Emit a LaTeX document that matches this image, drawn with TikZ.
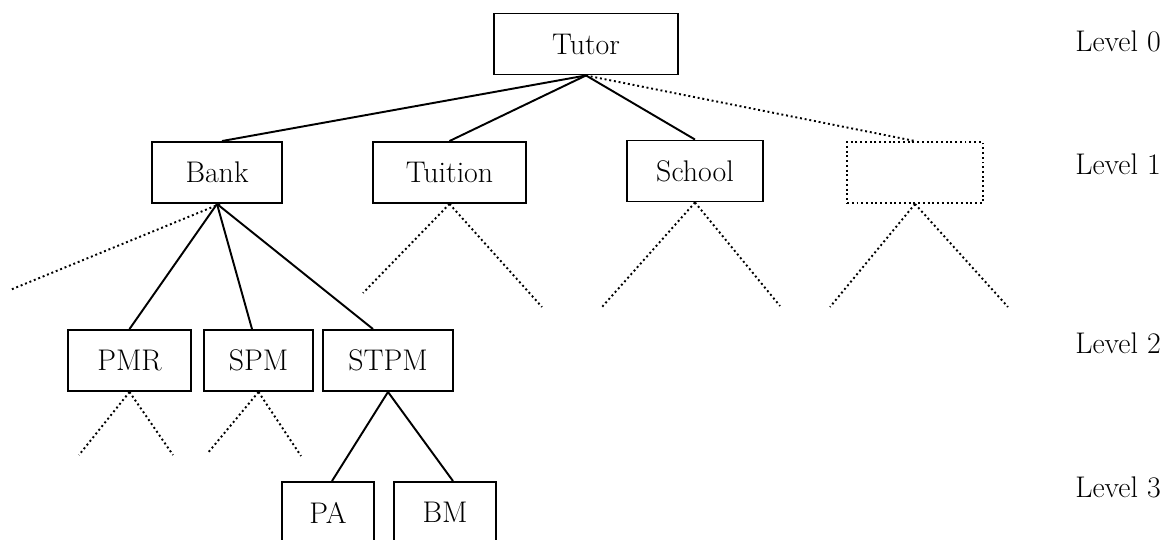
\documentclass[tikz,border=0pt]{standalone}
\tikzset{
  box/.style={draw, line width=1.1pt, minimum height=1.22cm, inner sep=0pt,
    font=\fontsize{17}{20}\selectfont},
  ghostbox/.style={box, dash pattern=on 1.1pt off 1.6pt},
  link/.style={line width=1.1pt},
  stub/.style={line width=1.1pt, dash pattern=on 1.1pt off 1.6pt},
  levellabel/.style={anchor=west, inner sep=0pt, font=\fontsize{17}{20}\selectfont}
}
\begin{document}
\begin{tikzpicture}[x=0.02cm, y=-0.02cm]
    \useasboundingbox (0,0) rectangle (1163,540);

    % Level 0
    \node[box, minimum width=3.68cm] (tutor) at (586,44) {Tutor};

    % Level 1
    \node[box, minimum width=2.60cm] (bank) at (217,172.5) {Bank};
    \node[box, minimum width=3.06cm] (tuition) at (449.5,172.5) {Tuition};
    \node[box, minimum width=2.72cm] (school) at (695,171) {School};
    \node[ghostbox, minimum width=2.72cm] (blank) at (915,172.5) {};

    % Level 2
    \node[box, minimum width=2.46cm] (pmr) at (129.5,360.5) {PMR};
    \node[box, minimum width=2.18cm] (spm) at (258.5,360.5) {SPM};
    \node[box, minimum width=2.60cm] (stpm) at (388,360.5) {STPM};

    % Level 3
    \node[box, minimum width=1.84cm] (pa) at (328,512.5) {PA};
    \node[box, minimum width=2.04cm] (bm) at (445,512.5) {BM};

    % Level labels
    \foreach \y/\n in {41/0, 164/1, 343/2, 487/3}{
        \node[levellabel] (level\n) at (1075,\y) {Level \n};
    }

    % Solid links
    \draw[link] (tutor.south) -- ([xshift=0.1cm]bank.north);
    \draw[link] (tutor.south) -- (tuition.north);
    \draw[link] (tutor.south) -- (school.north);
    \draw[link] (bank.south) -- (pmr.north);
    \draw[link] (bank.south) -- ([xshift=-0.13cm]spm.north);
    \draw[link] (bank.south) -- ([xshift=-0.3cm]stpm.north);
    \draw[link] (stpm.south) -- ([xshift=0.08cm]pa.north);
    \draw[link] (stpm.south) -- ([xshift=0.16cm]bm.north);

    % Dotted links
    \draw[stub] (tutor.south) -- (blank.north);

    % Free ends of the dotted stubs
    \coordinate (bankL) at (10,290);
    \coordinate (tuitionL) at (363,293);
    \coordinate (tuitionR) at (542,307);
    \coordinate (schoolL) at (602,307);
    \coordinate (schoolR) at (780,306);
    \coordinate (blankL) at (830,307);
    \coordinate (blankR) at (1008,307);
    \coordinate (pmrL) at (79,455);
    \coordinate (pmrR) at (173,455);
    \coordinate (spmL) at (207,454);
    \coordinate (spmR) at (301,456);

    \draw[stub] ([xshift=0.06cm]bank.south) -- (bankL);
    \foreach \n in {tuition, school, blank, pmr, spm}{
        \draw[stub] (\n.south) -- (\n L);
        \draw[stub] (\n.south) -- (\n R);
    }
\end{tikzpicture}
\end{document}
